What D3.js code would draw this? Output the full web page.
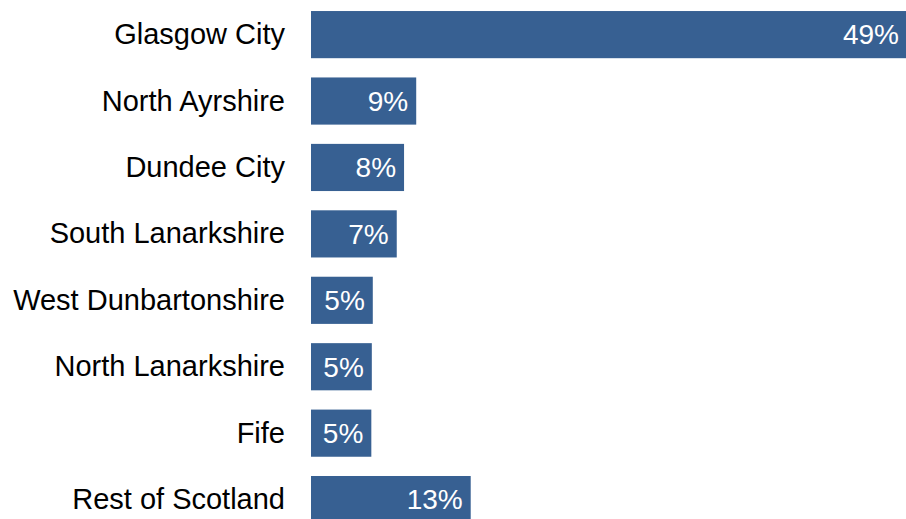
<!DOCTYPE html>
<html lang="en">
<head>
    <meta charset="UTF-8">
    <title>Share by council area</title>
    <style>
        html, body {
            margin: 0;
            padding: 0;
            background: #fff;
            overflow: hidden;
        }
        svg text {
            font-family: "Liberation Sans", Arial, sans-serif;
        }
    </style>
</head>
<body>
    <script src="https://d3js.org/d3.v7.min.js"></script>
    <script>
        const areas = ['Glasgow City', 'North Ayrshire', 'Dundee City', 'South Lanarkshire',
                       'West Dunbartonshire', 'North Lanarkshire', 'Fife', 'Rest of Scotland'];
        const shares = [49, 8.65, 7.65, 7.05, 5.08, 5.0, 4.96, 13.13];
        const shareLabels = ['49%', '9%', '8%', '7%', '5%', '5%', '5%', '13%'];

        const w = 906;
        const h = 519;
        const barColor = '#376092';

        const xScale = d3.scaleLinear()
                         .domain([0, 49])
                         .range([311, 907]);
        const yScale = d3.scaleBand()
                         .domain(areas)
                         .range([1.4, 532.8])
                         .paddingInner(0.29)
                         .paddingOuter(0.145);

        const svg = d3.select('body')
                      .append('svg')
                      .attr('width', w)
                      .attr('height', h);

        const rows = areas.map((a, i) => ({ area: a, value: shares[i], label: shareLabels[i] }));

        svg.selectAll('rect')
           .data(rows)
           .enter()
           .append('rect')
           .attr('x', xScale(0))
           .attr('y', d => yScale(d.area))
           .attr('width', d => xScale(d.value) - xScale(0))
           .attr('height', yScale.bandwidth())
           .attr('fill', barColor);

        // value labels, white, inside the end of each bar
        svg.selectAll('.value')
           .data(rows)
           .enter()
           .append('text')
           .attr('class', 'value')
           .attr('x', d => xScale(d.value) - 8)
           .attr('y', d => yScale(d.area) + yScale.bandwidth() / 2)
           .attr('dy', '0.35em')
           .attr('text-anchor', 'end')
           .attr('font-size', 28)
           .attr('fill', '#fff')
           .text(d => d.label);

        // category axis with no line or ticks
        const yAxis = d3.axisLeft(yScale).tickSize(0).tickPadding(26);
        const gy = svg.append('g')
                      .attr('transform', 'translate(' + xScale(0) + ',0)')
                      .call(yAxis);
        gy.select('.domain').remove();
        gy.selectAll('text')
          .attr('font-size', 29)
          .attr('dy', '0.33em')
          .attr('font-family', '"Liberation Sans", Arial, sans-serif')
          .attr('fill', '#000');
    </script>
</body>
</html>
